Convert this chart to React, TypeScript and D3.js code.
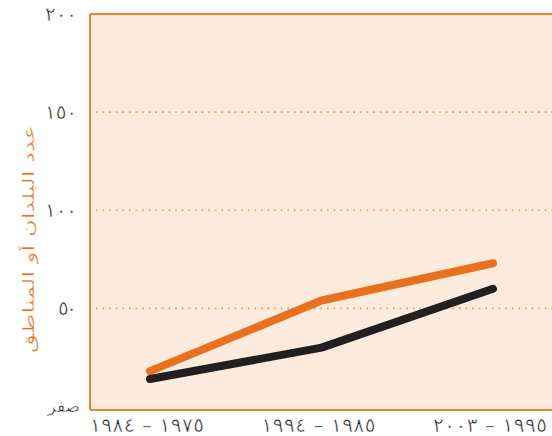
import React from "react";
import * as d3 from "d3";

// periods (logical Arabic order: start – end)
const periodStarts = ["١٩٧٥", "١٩٨٥", "١٩٩٥"];
const periodEnds = ["١٩٨٤", "١٩٩٤", "٢٠٠٣"];
const orangeSeries = [18, 54, 73];
const blackSeries = [14, 30, 60];
const yTicks = [0, 50, 100, 150, 200];
const yTickLabels = ["صفر", "٥٠", "١٠٠", "١٥٠", "٢٠٠"];
const yTitle = "عدد البلدان أو المناطق";

const width = 552, height = 436;
const plotLeft = 90, plotTop = 14, plotBottom = 410;

export default function App() {
  const x = d3.scalePoint<number>().domain([0, 1, 2]).range([150, 493]);
  const y = d3.scaleLinear().domain([0, 200]).range([406.5, 14]);

  const line = d3.line<number>()
    .x((_, i) => x(i) as number)
    .y(d => y(d));

  const font = "'DejaVu Sans', sans-serif";
  // digits are drawn in visual order, left to right
  const ltr: React.CSSProperties = { direction: "ltr", unicodeBidi: "bidi-override" };

  return (
    <svg width={width} height={height}
      style={{ position: "absolute", left: 0, top: 0, display: "block" }}>
      {/* plot background */}
      <rect x={plotLeft} y={plotTop} width={width - plotLeft} height={plotBottom - plotTop}
        fill="#fdebdd" />
      <line x1={plotLeft} x2={width} y1={plotTop} y2={plotTop} stroke="#ef8230" strokeWidth={2} />
      <line x1={plotLeft} x2={width} y1={plotBottom} y2={plotBottom} stroke="#ef8230" strokeWidth={2} />
      <line x1={plotLeft} x2={plotLeft} y1={plotTop} y2={plotBottom} stroke="#ef8230" strokeWidth={2} />

      {/* dotted gridlines */}
      {yTicks.filter(t => t > 0 && t < 200).map(t => (
        <line key={t} x1={plotLeft + 6} x2={width} y1={y(t)} y2={y(t)}
          stroke="#f0924a" strokeWidth={1.6} strokeDasharray="1.6 5" />
      ))}

      {/* y tick labels */}
      {yTicks.map((t, i) => {
        const s = yTickLabels[i];
        if (t === 0) {
          return (
            <text key={t} x={80} y={y(t) + 5} textAnchor="end"
              fontFamily={font} fontSize={17} fill="#231f20"
              stroke="#fff" strokeWidth={0.5}>{s}</text>
          );
        }
        return (
          <text key={t} x={77} y={y(t) + 7} textAnchor="end" style={ltr}
            fontFamily={font} fontSize={20} fill="#231f20"
            stroke="#fff" strokeWidth={0.55}
            textLength={(s.length - 1) * 13 + 6} lengthAdjust="spacing">
            {s}
          </text>
        );
      })}

      {/* y title */}
      <text transform={`translate(28,${239}) rotate(-90)`} textAnchor="middle"
        fontFamily={font} fontSize={16} fill="#e8711e" dy="0.35em"
        stroke="#fff" strokeWidth={0.35}
        textLength={228} lengthAdjust="spacingAndGlyphs">
        {yTitle}
      </text>

      {/* x tick labels */}
      {periodStarts.map((start, i) => (
        <text key={start} x={x(i) - 3} y={432} textAnchor="middle" style={ltr}
          fontFamily={font} fontSize={20} fill="#231f20"
          stroke="#fff" strokeWidth={0.55}
          textLength={114} lengthAdjust="spacing">
          {`${periodEnds[i]} – ${start}`}
        </text>
      ))}

      {/* lines */}
      <path d={line(orangeSeries) ?? ""} fill="none" stroke="#e8711e" strokeWidth={8}
        strokeLinecap="round" strokeLinejoin="round" />
      <path d={line(blackSeries) ?? ""} fill="none" stroke="#231f20" strokeWidth={8}
        strokeLinecap="round" strokeLinejoin="round" />
    </svg>
  );
}
